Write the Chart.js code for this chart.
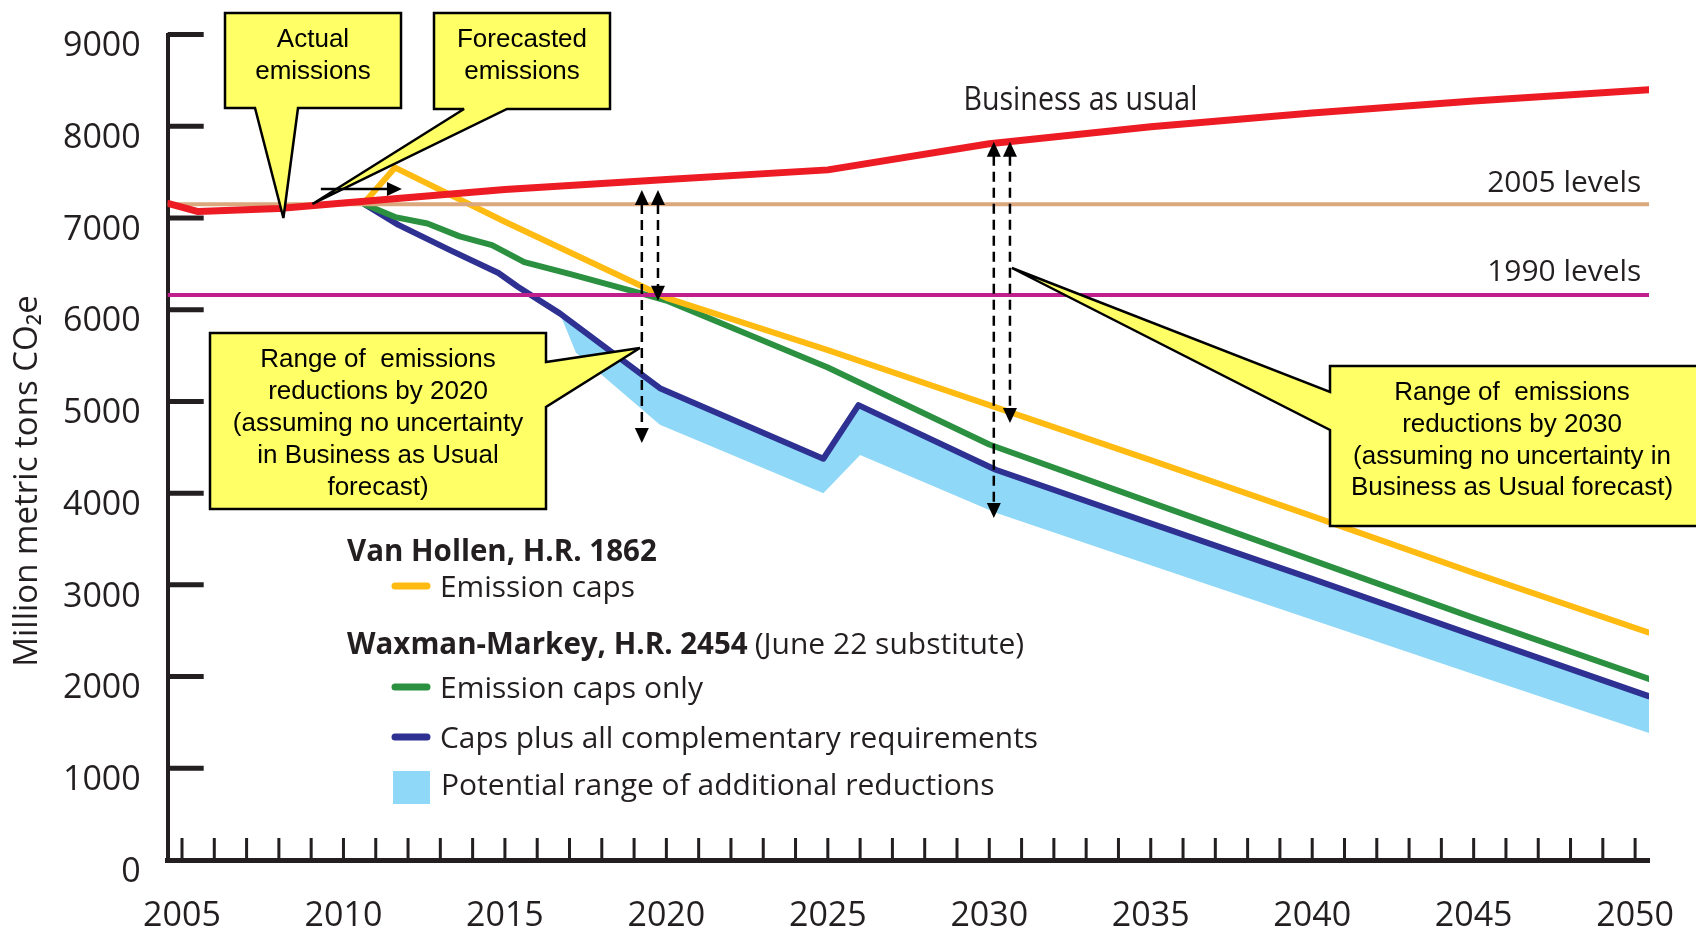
<!DOCTYPE html>
<html>
<head>
<meta charset="utf-8">
<title>Emission caps vs business as usual</title>
<script src="https://cdn.jsdelivr.net/npm/chart.js@4.4.1/dist/chart.umd.min.js"></script>
<style>
  html, body { margin: 0; padding: 0; background: #fff; }
  canvas { display: block; width: 1696px; height: 929px; }
</style>
</head>
<body>
<canvas id="emissionsChart" width="1696" height="929"></canvas>
<script>
// values, million metric tons CO2e

// Business as usual
const bauYears = [2004.56, 2005.5, 2008, 2010, 2015, 2020, 2025, 2030, 2035, 2040, 2045, 2050.43];
const bauValues = [7160, 7070, 7105, 7165, 7310, 7420, 7525, 7810, 7995, 8145, 8275, 8400];

// Van Hollen, H.R. 1862 - emission caps
const vanHollenYears = [2010.65, 2011.6, 2015, 2020, 2025, 2030, 2035, 2040, 2045, 2050.43];
const vanHollenValues = [7170, 7550, 6960, 6130, 5560, 4960, 4360, 3750, 3130, 2480];

// Waxman-Markey - emission caps only
const capsOnlyYears = [2010.65, 2011.6, 2012.6, 2013.6, 2014.6, 2015.6, 2017, 2019.3, 2020, 2025, 2030, 2035, 2040, 2045, 2050.43];
const capsOnlyValues = [7150, 7010, 6940, 6800, 6705, 6520, 6390, 6170, 6100, 5370, 4530, 3900, 3270, 2640, 1975];

// Waxman-Markey - caps plus all complementary requirements
const capsPlusYears = [2010.65, 2011.7, 2013.3, 2014.8, 2015.4, 2016.7, 2019.8, 2024.86, 2025.95, 2030.2, 2035, 2040, 2045, 2050.43];
const capsPlusValues = [7150, 6925, 6650, 6400, 6250, 5960, 5145, 4375, 4960, 4255, 3670, 3065, 2450, 1785];

// potential range of additional reductions (lower edge; the top edge is the blue line)
const rangeYears = [2016.7, 2017.2, 2019.8, 2024.86, 2026, 2030.2, 2035, 2040, 2045, 2050.43];
const rangeLowValues = [5960, 5530, 4745, 4000, 4415, 3785, 3215, 2620, 2025, 1385];

const level2005 = 7150;
const level1990 = 6160;

// annotation anchors (year, value)
const rangeArrows = [
  { year: 2019.24, from: 7306, to: 4547 },
  { year: 2019.74, from: 7306, to: 6099 },
  { year: 2030.14, from: 7833, to: 3729 },
  { year: 2030.64, from: 7833, to: 4765 }
];
const forecastArrow = { from: [2009.3, 7317], to: [2011.81, 7317] };

const INK = '#231f20';
const SANS = '"Open Sans", "Noto Sans", sans-serif';
const ARIAL = '"Liberation Sans", Arial, sans-serif';
const colors = {
  bau: '#ed1c24', vanHollen: '#ffbb11', capsOnly: '#2b9140', capsPlus: '#2e3192',
  range: '#8fd8f8', l2005: '#dba77d', l1990: '#c0208c', callout: '#ffff66'
};

const xMin = 2004.557, xMax = 2050.43;

const pts = (xs, ys) => xs.map((x, i) => ({ x: x, y: ys[i] }));

const callouts = [
  { lines: ['Actual', 'emissions'], box: [225, 13, 401, 108], side: 'bottom', base: [255, 298],
    tip: [2008.14, 7000], firstLine: 40, step: 32 },
  { lines: ['Forecasted', 'emissions'], box: [434, 13, 610, 109], side: 'bottom', base: [464, 507],
    tip: [2009.04, 7153], firstLine: 40, step: 32 },
  { lines: ['Range of  emissions', 'reductions by 2020', '(assuming no uncertainty', 'in Business as Usual', 'forecast)'],
    box: [210, 333, 546, 509], side: 'right', base: [362, 407], tip: [2019.18, 5583], firstLine: 360, step: 32 },
  { lines: ['Range of  emissions', 'reductions by 2030', '(assuming no uncertainty in', 'Business as Usual forecast)'],
    box: [1330, 366, 1702, 526], side: 'left', base: [392, 430], tip: [2030.7, 6455], firstLine: 393, step: 31.7, cx: 1512 }
];

function drawText(ctx, str, x, y, font, opts) {
  opts = opts || {};
  ctx.font = font;
  ctx.fillStyle = opts.color || INK;
  ctx.textAlign = opts.align || 'left';
  ctx.textBaseline = opts.baseline || 'alphabetic';
  if (opts.maxWidth) ctx.fillText(str, x, y, opts.maxWidth);
  else ctx.fillText(str, x, y);
  const w = ctx.measureText(str).width;
  return opts.maxWidth ? Math.min(w, opts.maxWidth) : w;
}

function arrowHead(ctx, x, y, dx, dy) {
  // tip at (x, y), pointing along (dx, dy)
  const len = 15, half = 7;
  const bx = x - dx * len, by = y - dy * len;
  ctx.beginPath();
  ctx.moveTo(x, y);
  ctx.lineTo(bx - dy * half, by + dx * half);
  ctx.lineTo(bx + dy * half, by - dx * half);
  ctx.closePath();
  ctx.fill();
}

function drawCallout(ctx, c, tip) {
  const [l, t, r, b] = c.box;
  ctx.beginPath();
  ctx.moveTo(l, t);
  ctx.lineTo(r, t);
  if (c.side === 'right') { ctx.lineTo(r, c.base[0]); ctx.lineTo(tip.x, tip.y); ctx.lineTo(r, c.base[1]); }
  ctx.lineTo(r, b);
  if (c.side === 'bottom') { ctx.lineTo(c.base[1], b); ctx.lineTo(tip.x, tip.y); ctx.lineTo(c.base[0], b); }
  ctx.lineTo(l, b);
  if (c.side === 'left') { ctx.lineTo(l, c.base[1]); ctx.lineTo(tip.x, tip.y); ctx.lineTo(l, c.base[0]); }
  ctx.closePath();
  ctx.fillStyle = colors.callout;
  ctx.fill();
  ctx.lineWidth = 2.5;
  ctx.strokeStyle = '#000';
  ctx.lineJoin = 'miter';
  ctx.miterLimit = 2;
  ctx.stroke();
  const cx = c.cx || (l + r) / 2;
  c.lines.forEach((line, i) => {
    drawText(ctx, line, cx, c.firstLine + i * c.step, '26px ' + ARIAL, { align: 'center', baseline: 'middle', color: '#000' });
  });
}

const axisTicks = {
  id: 'axisTicks',
  beforeDatasetsDraw(chart) {
    const { ctx, chartArea, scales: { x, y } } = chart;
    ctx.save();
    ctx.strokeStyle = INK;
    ctx.lineWidth = 5;
    ctx.beginPath();
    y.ticks.forEach(t => {
      if (t.value === 0) return;
      const py = y.getPixelForValue(t.value);
      ctx.moveTo(chartArea.left, py);
      ctx.lineTo(chartArea.left + 36, py);
    });
    ctx.stroke();
    ctx.lineWidth = 3;
    ctx.beginPath();
    for (let yr = Math.ceil(x.min); yr <= Math.floor(x.max); yr++) {
      const px = x.getPixelForValue(yr);
      ctx.moveTo(px, chartArea.bottom);
      ctx.lineTo(px, chartArea.bottom - 22);
    }
    ctx.stroke();

    // y axis title
    ctx.translate(28, 481);
    ctx.rotate(-Math.PI / 2);
    drawText(ctx, 'Million metric tons CO\u2082e', 0, 0, '33px ' + SANS, { align: 'center', baseline: 'middle', maxWidth: 374 });
    ctx.restore();
  }
};

const annotations = {
  id: 'annotations',
  afterDatasetsDraw(chart) {
    const { ctx, scales: { x, y } } = chart;
    const P = (yr, v) => ({ x: x.getPixelForValue(yr), y: y.getPixelForValue(v) });
    ctx.save();

    // line labels
    let p = P(2029.2, 8178);
    drawText(ctx, 'Business as usual', p.x, p.y, '32px ' + SANS, { maxWidth: 234 });
    p = P(2050.19, level2005);
    drawText(ctx, '2005 levels', p.x, p.y - 12, '30px ' + SANS, { align: 'right', maxWidth: 154 });
    p = P(2050.19, level1990);
    drawText(ctx, '1990 levels', p.x, p.y - 14, '30px ' + SANS, { align: 'right', maxWidth: 154 });

    // legend
    const ds = chart.data.datasets;
    const head = 'bold 29.5px ' + SANS, item = '30px ' + SANS;
    drawText(ctx, 'Van Hollen, H.R. 1862', 347, 561, head, { maxWidth: 314 });
    const bw = drawText(ctx, 'Waxman-Markey, H.R. 2454', 347, 654, head, { maxWidth: 404 });
    drawText(ctx, '(June 22 substitute)', 347 + bw + 7, 654, item, { maxWidth: 276 });
    const rows = [
      { d: ds.find(d => d.key === 'vanHollen'), y: 586, w: 195 },
      { d: ds.find(d => d.key === 'capsOnly'), y: 687, w: 263 },
      { d: ds.find(d => d.key === 'capsPlus'), y: 737, w: 598 }
    ];
    ctx.lineCap = 'round';
    rows.forEach(r => {
      ctx.strokeStyle = r.d.borderColor;
      ctx.lineWidth = 7;
      ctx.beginPath();
      ctx.moveTo(395, r.y);
      ctx.lineTo(427, r.y);
      ctx.stroke();
      drawText(ctx, r.d.label, 440, r.y + 11, item, { maxWidth: r.w });
    });
    const band = ds.find(d => d.key === 'rangeLow');
    ctx.fillStyle = band.backgroundColor;
    ctx.fillRect(393, 771, 37, 33);
    drawText(ctx, band.label, 441, 795, item, { maxWidth: 554 });

    // dashed range arrows
    ctx.fillStyle = '#000';
    ctx.strokeStyle = '#000';
    rangeArrows.forEach(a => {
      const top = P(a.year, a.from), bot = P(a.year, a.to);
      ctx.lineWidth = 2.5;
      ctx.lineCap = 'butt';
      ctx.setLineDash([10, 6]);
      ctx.beginPath();
      ctx.moveTo(top.x, top.y + 14);
      ctx.lineTo(bot.x, bot.y - 14);
      ctx.stroke();
      ctx.setLineDash([]);
      arrowHead(ctx, top.x, top.y, 0, -1);
      arrowHead(ctx, bot.x, bot.y, 0, 1);
    });

    // callouts
    callouts.forEach(c => drawCallout(ctx, c, P(c.tip[0], c.tip[1])));

    // forecast arrow
    const fa = P(forecastArrow.from[0], forecastArrow.from[1]);
    const fb = P(forecastArrow.to[0], forecastArrow.to[1]);
    ctx.strokeStyle = '#000';
    ctx.fillStyle = '#000';
    ctx.lineWidth = 2.5;
    ctx.beginPath();
    ctx.moveTo(fa.x, fa.y);
    ctx.lineTo(fb.x - 14, fb.y);
    ctx.stroke();
    arrowHead(ctx, fb.x, fb.y, 1, 0);

    ctx.restore();
  }
};

const lineStyle = { pointRadius: 0, tension: 0, fill: false, borderJoinStyle: 'round', borderCapStyle: 'round' };

const chart = new Chart(document.getElementById('emissionsChart'), {
  type: 'line',
  data: {
    datasets: [
      Object.assign({ key: 'bau', label: 'Business as usual', data: pts(bauYears, bauValues),
        borderColor: colors.bau, borderWidth: 7, order: 1 }, lineStyle),
      Object.assign({ key: 'l2005', label: '2005 levels', data: pts([xMin, xMax], [level2005, level2005]),
        borderColor: colors.l2005, borderWidth: 4, order: 2 }, lineStyle),
      Object.assign({ key: 'l1990', label: '1990 levels', data: pts([xMin, xMax], [level1990, level1990]),
        borderColor: colors.l1990, borderWidth: 4, order: 3 }, lineStyle),
      Object.assign({ key: 'vanHollen', label: 'Emission caps', data: pts(vanHollenYears, vanHollenValues),
        borderColor: colors.vanHollen, borderWidth: 6, order: 4 }, lineStyle),
      Object.assign({ key: 'capsOnly', label: 'Emission caps only', data: pts(capsOnlyYears, capsOnlyValues),
        borderColor: colors.capsOnly, borderWidth: 6, order: 5 }, lineStyle),
      Object.assign({ key: 'capsPlus', label: 'Caps plus all complementary requirements', data: pts(capsPlusYears, capsPlusValues),
        borderColor: colors.capsPlus, borderWidth: 6, order: 6 }, lineStyle),
      // band from its lower edge up to the blue line (dataset 5)
      Object.assign({}, lineStyle, { key: 'rangeLow', label: 'Potential range of additional reductions',
        data: pts(rangeYears, rangeLowValues),
        borderWidth: 0, borderColor: 'rgba(0,0,0,0)', backgroundColor: colors.range, fill: 5, order: 7 })
    ]
  },
  options: {
    responsive: false,
    animation: false,
    events: [],
    layout: { padding: { top: 34.6, right: 47, bottom: 0, left: 0 } },
    plugins: { legend: { display: false }, tooltip: { enabled: false } },
    scales: {
      x: {
        type: 'linear', min: xMin, max: xMax,
        afterFit: s => { s.height = 69; s.paddingLeft = 0; s.paddingRight = 0; },
        grid: { display: false, drawTicks: false },
        border: { display: true, width: 5, color: INK },
        ticks: {
          stepSize: 5, includeBounds: false, autoSkip: false, maxRotation: 0, padding: 36,
          color: INK, font: { family: SANS, size: 34 },
          callback: v => String(v)
        }
      },
      y: {
        type: 'linear', min: 0, max: 9000,
        afterFit: s => { s.width = 167.7; s.paddingTop = 0; s.paddingBottom = 0; },
        grid: { display: false, drawTicks: false },
        border: { display: true, width: 4, color: INK },
        ticks: {
          stepSize: 1000, padding: 27, labelOffset: 12,
          color: INK, font: { family: SANS, size: 34 },
          callback: v => String(v)
        }
      }
    }
  },
  plugins: [axisTicks, annotations]
});
</script>
</body>
</html>
